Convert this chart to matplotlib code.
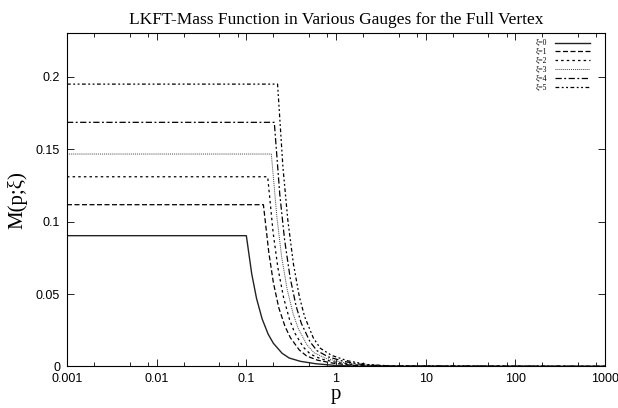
import matplotlib
matplotlib.use("Agg")
import matplotlib.pyplot as plt
from matplotlib.ticker import LogLocator, FixedLocator, NullFormatter, FixedFormatter

labels = ["ξ=0", "ξ=1", "ξ=2", "ξ=3", "ξ=4", "ξ=5"]

p0 = [0.001, 0.1, 0.115, 0.13, 0.15, 0.175, 0.2, 0.25, 0.3, 0.4, 0.6, 1.0, 2.0, 1000]
m0 = [0.0903, 0.0903, 0.0637, 0.0469, 0.0328, 0.0223, 0.0160, 0.0091, 0.0058, 0.0035, 0.0018, 0.0006, 0.0001, 0.0]

p1 = [0.001, 0.155, 0.178, 0.2, 0.23, 0.27, 0.31, 0.39, 0.47, 0.62, 0.93, 1.55, 3.1, 1000]
m1 = [0.1117, 0.1117, 0.0788, 0.058, 0.0405, 0.0276, 0.0198, 0.0113, 0.0072, 0.0043, 0.0022, 0.0007, 0.0001, 0.0]

p2 = [0.001, 0.173, 0.199, 0.225, 0.26, 0.303, 0.346, 0.433, 0.519, 0.69, 1.04, 1.73, 3.46, 1000]
m2 = [0.131, 0.131, 0.0924, 0.068, 0.0476, 0.0324, 0.0232, 0.0132, 0.0084, 0.0050, 0.0026, 0.0009, 0.0001, 0.0]

p3 = [0.001, 0.19, 0.219, 0.247, 0.285, 0.333, 0.38, 0.475, 0.57, 0.76, 1.14, 1.9, 3.8, 1000]
m3 = [0.1467, 0.1467, 0.1034, 0.0761, 0.0533, 0.0362, 0.026, 0.0148, 0.0094, 0.0057, 0.0029, 0.001, 0.0002, 0.0]

p4 = [0.001, 0.205, 0.236, 0.267, 0.308, 0.359, 0.41, 0.513, 0.615, 0.82, 1.23, 2.05, 4.1, 1000]
m4 = [0.1686, 0.1686, 0.1189, 0.0875, 0.0612, 0.0416, 0.0298, 0.017, 0.0108, 0.0066, 0.0034, 0.0011, 0.0002, 0.0]

p5 = [0.001, 0.223, 0.256, 0.29, 0.335, 0.39, 0.446, 0.558, 0.669, 0.892, 1.34, 2.23, 4.46, 1000]
m5 = [0.195, 0.195, 0.1375, 0.1012, 0.0708, 0.0482, 0.0345, 0.0197, 0.0125, 0.0076, 0.0039, 0.0013, 0.0002, 0.0]

xticks = [0.001, 0.01, 0.1, 1, 10, 100, 1000]
xticklabels = ["0.001", "0.01", "0.1", "1", "10", "100", "1000"]
yticks = [0, 0.05, 0.1, 0.15, 0.2]
yticklabels = ["0", "0.05", "0.1", "0.15", "0.2"]

styles = [
    dict(ls="-", lw=1.0, color="#222222"),
    dict(ls=(0, (4, 2)), lw=0.9, color="black"),
    dict(ls=(0, (2, 2.5)), lw=0.9, color="black"),
    dict(ls=(0, (1, 1)), lw=0.7, color="#444444"),
    dict(ls=(0, (5, 2, 1.5, 2)), lw=0.9, color="black"),
    dict(ls=(0, (3, 2, 1.5, 2, 1.5, 2)), lw=0.9, color="black"),
]

fig = plt.figure(figsize=(6.18, 4.08), dpi=100)
ax = fig.add_axes([0.1084, 0.102, 0.979 - 0.1084, 0.918 - 0.102])

series = [(p0, m0), (p1, m1), (p2, m2), (p3, m3), (p4, m4), (p5, m5)]
for (px, my), lab, st in zip(series, labels, styles):
    ax.plot(px, my, label=lab, **st)

ax.set_xscale("log")
ax.set_xlim(0.001, 1000)
ax.set_ylim(0, 0.23)

ax.xaxis.set_major_locator(FixedLocator(xticks))
ax.xaxis.set_major_formatter(FixedFormatter(xticklabels))
ax.xaxis.set_minor_locator(LogLocator(base=10, subs=(2, 5, 8)))
ax.xaxis.set_minor_formatter(NullFormatter())
ax.yaxis.set_major_locator(FixedLocator(yticks))
ax.yaxis.set_major_formatter(FixedFormatter(yticklabels))

ax.tick_params(which="both", direction="in", top=True, right=True, width=0.6)
ax.tick_params(which="major", length=5, labelsize=9, pad=5)
ax.tick_params(which="minor", length=3)
for lab in ax.get_xticklabels() + ax.get_yticklabels():
    lab.set_family("Liberation Sans")
for s in ax.spines.values():
    s.set_linewidth(0.8)

ax.set_title("LKFT-Mass Function in Various Gauges for the Full Vertex",
             family="Liberation Serif", fontsize=12.5, pad=7)
ax.set_xlabel("p", family="Liberation Serif", fontsize=15, labelpad=0)
ax.set_ylabel("M(p;ξ)", family="Liberation Serif", fontsize=15, labelpad=6)

leg = ax.legend(loc="upper right", bbox_to_anchor=(0.978, 0.992),
                markerfirst=False, frameon=False,
                prop={"family": "Liberation Serif", "size": 5.5},
                handlelength=4.6, labelspacing=0.12, borderaxespad=0,
                handletextpad=1.0)

fig.savefig("out.png", dpi=100)
